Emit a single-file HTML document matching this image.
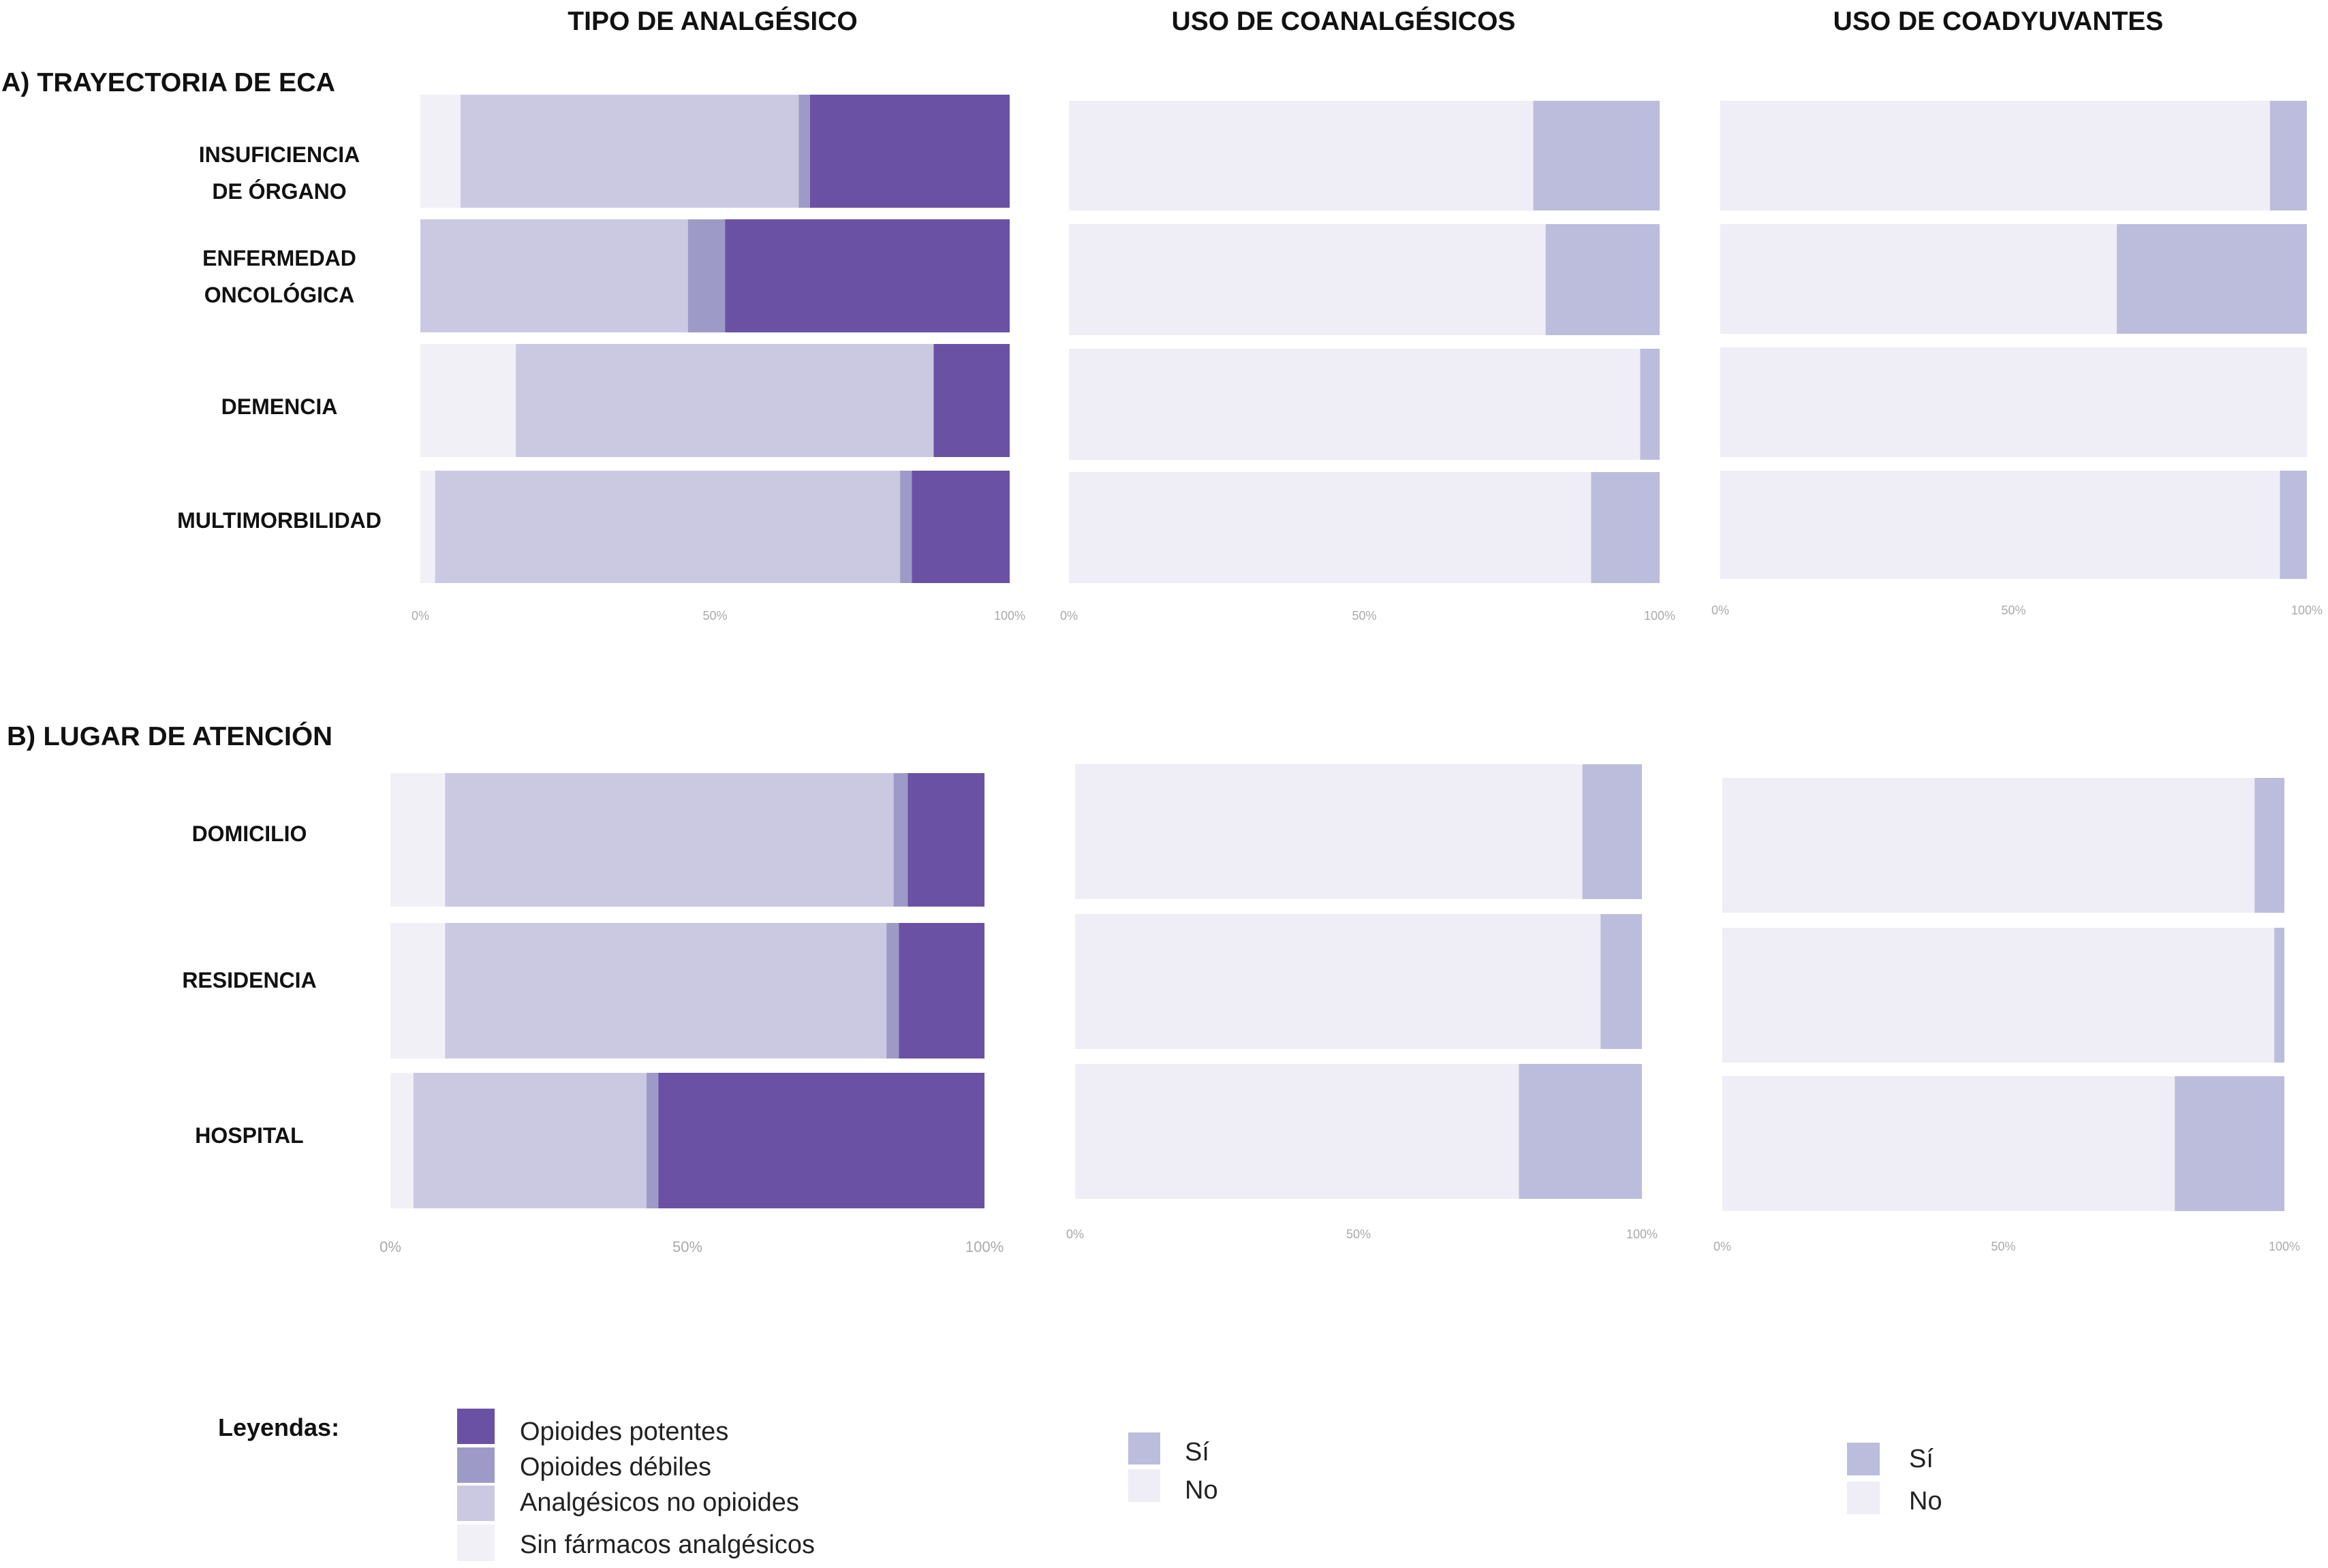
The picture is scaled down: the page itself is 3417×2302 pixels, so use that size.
<!DOCTYPE html>
<html><head><meta charset="utf-8">
<style>
html,body{margin:0;padding:0;background:#fff;}
svg{display:block;font-family:"Liberation Sans Narrow","Liberation Sans",sans-serif;}
</style></head>
<body>
<svg id="chart" width="3417" height="2302" viewBox="0 0 3417 2302" xmlns="http://www.w3.org/2000/svg">
<text x="1046" y="44" font-size="39" font-weight="bold" text-anchor="middle" fill="#111">TIPO DE ANALGÉSICO</text>
<text x="1972" y="44" font-size="39" font-weight="bold" text-anchor="middle" fill="#111">USO DE COANALGÉSICOS</text>
<text x="2933" y="44" font-size="39" font-weight="bold" text-anchor="middle" fill="#111">USO DE COADYUVANTES</text>
<text x="2" y="134" font-size="39" font-weight="bold" fill="#111" textLength="490" lengthAdjust="spacingAndGlyphs">A) TRAYECTORIA DE ECA</text>
<text x="10" y="1094" font-size="39" font-weight="bold" fill="#111" textLength="478" lengthAdjust="spacingAndGlyphs">B) LUGAR DE ATENCIÓN</text>
<g id="marks"></g>
<g>
<text x="320" y="2108" font-size="36" font-weight="bold" fill="#111">Leyendas:</text>
<rect x="671" y="2068" width="55" height="52" fill="#6a51a3"/>
<rect x="671" y="2125" width="55" height="52" fill="#9e9ac8"/>
<rect x="671" y="2181" width="55" height="52" fill="#cbc9e2"/>
<rect x="671" y="2238" width="55" height="54" fill="#f2f0f7"/>
<text x="763" y="2114" font-size="38" fill="#222" font-family="Liberation Sans, sans-serif">Opioides potentes</text>
<text x="763" y="2166" font-size="38" fill="#222" font-family="Liberation Sans, sans-serif">Opioides débiles</text>
<text x="763" y="2218" font-size="38" fill="#222" font-family="Liberation Sans, sans-serif">Analgésicos no opioides</text>
<text x="763" y="2280" font-size="38" fill="#222" font-family="Liberation Sans, sans-serif">Sin fármacos analgésicos</text>
<rect x="1656" y="2103" width="47" height="47" fill="#bcbddc"/>
<rect x="1656" y="2157" width="47" height="48" fill="#efedf5"/>
<text x="1739" y="2144" font-size="38" fill="#222" font-family="Liberation Sans, sans-serif">Sí</text>
<text x="1739" y="2200" font-size="38" fill="#222" font-family="Liberation Sans, sans-serif">No</text>
<rect x="2711" y="2118" width="48" height="48" fill="#bcbddc"/>
<rect x="2711" y="2175" width="48" height="48" fill="#efedf5"/>
<text x="2802" y="2154" font-size="38" fill="#222" font-family="Liberation Sans, sans-serif">Sí</text>
<text x="2802" y="2216" font-size="38" fill="#222" font-family="Liberation Sans, sans-serif">No</text>
</g>
</svg>
<script>
// Data
const catsA = ["INSUFICIENCIA|DE ÓRGANO","ENFERMEDAD|ONCOLÓGICA","DEMENCIA","MULTIMORBILIDAD"];
const catsB = ["DOMICILIO","RESIDENCIA","HOSPITAL"];
const noneA = [6.8, 0, 16.2, 2.5];
const nonopA = [57.4, 45.4, 70.9, 78.9];
const weakA = [1.9, 6.3, 0, 2.0];
const strongA = [33.9, 48.3, 12.9, 16.6];
const noneB = [9.2, 9.2, 3.9];
const nonopB = [75.5, 74.3, 39.2];
const weakB = [2.4, 2.1, 2.0];
const strongB = [12.9, 14.4, 54.9];
const coanNoA = [78.6, 80.7, 96.7, 88.4];
const coanSiA = [21.4, 19.3, 3.3, 11.6];
const coadNoA = [93.7, 67.6, 100, 95.4];
const coadSiA = [6.3, 32.4, 0, 4.6];
const coanNoB = [89.5, 92.7, 78.3];
const coanSiB = [10.5, 7.3, 21.7];
const coadNoB = [94.7, 98.2, 80.5];
const coadSiB = [5.3, 1.8, 19.5];
const tickVals = [0, 50, 100];
const tickLabels = ["0%", "50%", "100%"];

const NS = "http://www.w3.org/2000/svg";
const g = document.getElementById('marks');
function mk(tag, attrs){const e=document.createElementNS(NS,tag);for(const k in attrs)e.setAttribute(k,attrs[k]);g.appendChild(e);return e;}

function panel(name, x0, x1, rowTops, rowBots, series, colors, tickY, tickSize){
  const xs = v => x0 + (x1 - x0) * v / 100;
  rowTops.forEach((top, i) => {
    let acc = 0;
    series.forEach((s, j) => {
      const v = s[i];
      if (v <= 0) { return; }
      const r = mk('rect', {x: xs(acc), y: top, width: xs(acc + v) - xs(acc), height: rowBots[i] - top, fill: colors[j]});
      
      
      acc += v;
    });
  });
  tickVals.forEach((t, k) => {
    const tx = mk('text', {x: xs(t), y: tickY, 'font-size': tickSize, 'text-anchor': 'middle', fill: '#aaa'});
    tx.textContent = tickLabels[k];
    
    
  });
}
const tipoColors = ["#f2f0f7", "#cbc9e2", "#9e9ac8", "#6a51a3"];
const ynColors = ["#efedf5", "#bcbddc"];

panel('tipo-a', 617, 1482, [139,322,505,691], [305,488,671,856], [noneA, nonopA, weakA, strongA], tipoColors, 910, 18);
panel('coan-a', 1569, 2436, [148,329,512,693], [309,492,675,856], [coanNoA, coanSiA], ynColors, 910, 18);
panel('coad-a', 2525, 3386, [148,329,510,691], [309,490,671,850], [coadNoA, coadSiA], ynColors, 902, 18);
panel('tipo-b', 573, 1445, [1135,1355,1575], [1331,1554,1774], [noneB, nonopB, weakB, strongB], tipoColors, 1838, 22);
panel('coan-b', 1578, 2410, [1122,1342,1562], [1320,1540,1760], [coanNoB, coanSiB], ynColors, 1818, 18);
panel('coad-b', 2528, 3353, [1142,1362,1580], [1340,1560,1778], [coadNoB, coadSiB], ynColors, 1836, 18);

// Category labels
const labA_y = [[238,292],[390,444],[608],[775]];
catsA.forEach((c, i) => {
  c.split('|').forEach((line, k) => {
    const t = mk('text', {x: 410, y: labA_y[i][k], 'font-size': 32, 'font-weight': 'bold', 'text-anchor': 'middle', fill: '#111'});
    t.textContent = line;
    
    
  });
});
const labB_y = [1235, 1450, 1678];
catsB.forEach((c, i) => {
  const t = mk('text', {x: 366, y: labB_y[i], 'font-size': 32, 'font-weight': 'bold', 'text-anchor': 'middle', fill: '#111'});
  t.textContent = c;
  
  
});
</script>
</body></html>
